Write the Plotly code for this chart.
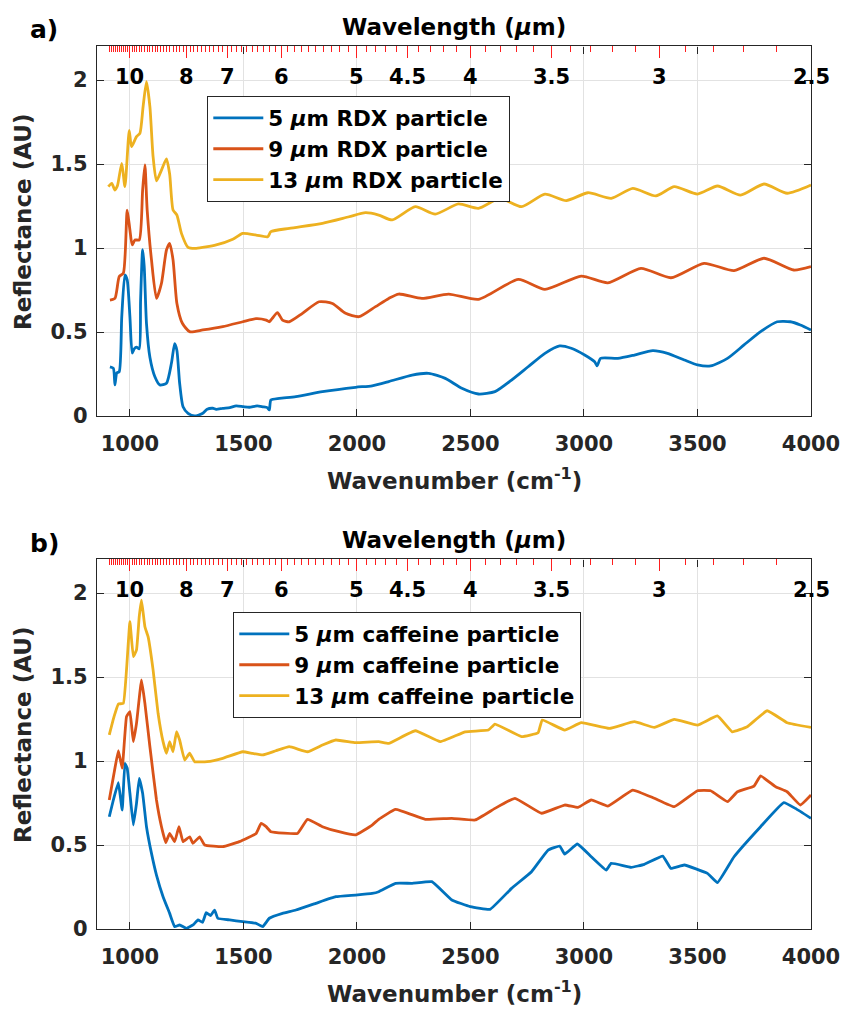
import plotly.graph_objects as go

# ---------------- Panel a: RDX ----------------
a5_wn = [912, 927, 934, 942, 953, 964, 978, 988, 1000, 1010, 1019, 1029, 1041, 1047, 1056, 1063, 1073, 1088,
         1110, 1132, 1161, 1183, 1197, 1207, 1219, 1234, 1256, 1285, 1321, 1340, 1365, 1380, 1409, 1440, 1468,
         1500, 1526, 1560, 1585, 1605, 1614, 1621, 1658, 1731, 1848, 1994, 2067, 2140, 2243, 2316, 2389, 2462,
         2535, 2608, 2681, 2754, 2828, 2893, 2944, 3003, 3047, 3058, 3073, 3149, 3222, 3303, 3368, 3442, 3500,
         3558, 3632, 3705, 3778, 3851, 3909, 3953, 4000]
a5_r = [0.293, 0.284, 0.185, 0.256, 0.264, 0.59, 0.84, 0.81, 0.59, 0.375, 0.40, 0.41, 0.40, 0.69, 0.99, 0.89,
        0.55, 0.35, 0.234, 0.185, 0.195, 0.315, 0.43, 0.39, 0.195, 0.055, 0.016, 0.0, 0.016, 0.04, 0.046, 0.04,
        0.046, 0.05, 0.06, 0.055, 0.052, 0.06, 0.055, 0.05, 0.036, 0.095, 0.105, 0.115, 0.145, 0.171, 0.18, 0.205,
        0.244, 0.254, 0.224, 0.165, 0.131, 0.145, 0.214, 0.293, 0.373, 0.417, 0.403, 0.363, 0.323, 0.298, 0.343,
        0.343, 0.363, 0.389, 0.373, 0.333, 0.304, 0.298, 0.343, 0.423, 0.502, 0.561, 0.561, 0.542, 0.512]

a9_wn = [912, 934, 953, 971, 988, 1000, 1010, 1022, 1041, 1056, 1066, 1076, 1095, 1117, 1139, 1161, 1175, 1190,
         1207, 1231, 1263, 1321, 1409, 1497, 1556, 1600, 1614, 1626, 1650, 1672, 1702, 1760, 1833, 1892, 1950,
         2009, 2082, 2140, 2184, 2286, 2404, 2535, 2711, 2828, 2988, 3105, 3251, 3383, 3529, 3661, 3793, 3924, 4000]
a9_r = [0.69, 0.70, 0.83, 0.85, 1.226, 1.107, 1.018, 1.048, 1.048, 1.345, 1.494, 1.226, 0.929, 0.70, 0.79, 0.988,
        1.028, 0.929, 0.67, 0.552, 0.502, 0.512, 0.532, 0.561, 0.58, 0.571, 0.561, 0.58, 0.615, 0.571, 0.561,
        0.611, 0.68, 0.67, 0.611, 0.591, 0.651, 0.70, 0.726, 0.70, 0.726, 0.694, 0.813, 0.754, 0.833, 0.793,
        0.879, 0.823, 0.909, 0.865, 0.939, 0.869, 0.889]

a13_wn = [905, 920, 934, 945, 964, 978, 997, 1007, 1029, 1044, 1058, 1073, 1088, 1102, 1117, 1139, 1161, 1175,
          1190, 1207, 1227, 1256, 1292, 1380, 1453, 1497, 1556, 1607, 1621, 1702, 1848, 1965, 2038, 2096, 2155,
          2257, 2345, 2447, 2535, 2630, 2725, 2828, 2922, 3018, 3120, 3215, 3317, 3398, 3500, 3588, 3690, 3793,
          3895, 4000]
a13_r = [1.365, 1.385, 1.345, 1.37, 1.504, 1.365, 1.70, 1.603, 1.663, 1.683, 1.841, 1.99, 1.841, 1.544, 1.40,
         1.464, 1.53, 1.44, 1.226, 1.196, 1.087, 1.004, 0.998, 1.018, 1.052, 1.087, 1.077, 1.067, 1.097, 1.117,
         1.147, 1.186, 1.21, 1.196, 1.167, 1.246, 1.202, 1.262, 1.236, 1.296, 1.246, 1.321, 1.282, 1.329, 1.296,
         1.355, 1.31, 1.365, 1.321, 1.369, 1.315, 1.381, 1.326, 1.375]

# ---------------- Panel b: caffeine ----------------
b5_wn = [909, 927, 949, 966, 978, 988, 1000, 1015, 1029, 1041, 1056, 1073, 1095, 1117, 1146, 1175, 1197, 1219,
         1249, 1278, 1300, 1320, 1336, 1355, 1373, 1387, 1439, 1497, 1556, 1585, 1614, 1672, 1731, 1819, 1907,
         1994, 2067, 2096, 2170, 2243, 2330, 2418, 2499, 2586, 2681, 2769, 2842, 2893, 2915, 2971, 3032, 3098,
         3120, 3208, 3266, 3347, 3383, 3442, 3544, 3588, 3661, 3778, 3880, 3931, 4000]
b5_r = [0.668, 0.768, 0.871, 0.708, 0.986, 0.957, 0.808, 0.619, 0.748, 0.897, 0.808, 0.609, 0.45, 0.321, 0.192,
        0.093, 0.014, 0.024, 0.004, 0.024, 0.054, 0.04, 0.097, 0.08, 0.113, 0.064, 0.054, 0.044, 0.034, 0.014,
        0.064, 0.093, 0.113, 0.153, 0.192, 0.202, 0.212, 0.222, 0.272, 0.272, 0.282, 0.173, 0.133, 0.117, 0.242,
        0.341, 0.47, 0.494, 0.446, 0.506, 0.43, 0.351, 0.391, 0.367, 0.385, 0.434, 0.361, 0.381, 0.331, 0.276,
        0.43, 0.609, 0.752, 0.718, 0.659]

b9_wn = [909, 930, 949, 966, 985, 1000, 1015, 1029, 1051, 1066, 1088, 1117, 1139, 1158, 1175, 1197, 1216, 1234,
         1263, 1278, 1307, 1329, 1409, 1482, 1556, 1578, 1600, 1621, 1738, 1782, 1848, 1921, 1994, 2067, 2096,
         2170, 2301, 2418, 2521, 2608, 2696, 2813, 2915, 2974, 3032, 3105, 3215, 3310, 3398, 3500, 3558, 3632,
         3676, 3749, 3778, 3844, 3895, 3953, 4000]
b9_r = [0.768, 0.927, 1.061, 0.957, 1.264, 1.294, 1.115, 1.224, 1.482, 1.343, 1.085, 0.768, 0.609, 0.514, 0.569,
        0.52, 0.609, 0.52, 0.549, 0.51, 0.549, 0.50, 0.49, 0.52, 0.569, 0.629, 0.609, 0.579, 0.569, 0.653, 0.609,
        0.579, 0.56, 0.619, 0.653, 0.712, 0.653, 0.659, 0.649, 0.718, 0.778, 0.689, 0.738, 0.724, 0.768, 0.732,
        0.827, 0.778, 0.728, 0.823, 0.823, 0.758, 0.817, 0.851, 0.911, 0.847, 0.817, 0.738, 0.798]

b13_wn = [909, 930, 949, 971, 985, 1000, 1015, 1029, 1041, 1051, 1066, 1080, 1102, 1124, 1146, 1161, 1175, 1190,
          1205, 1219, 1241, 1263, 1285, 1340, 1409, 1497, 1540, 1585, 1643, 1702, 1782, 1848, 1907, 1994, 2096,
          2140, 2257, 2367, 2477, 2579, 2608, 2725, 2798, 2816, 2915, 2988, 3112, 3222, 3310, 3398, 3500, 3588,
          3653, 3719, 3807, 3895, 4000]
b13_r = [1.155, 1.264, 1.339, 1.343, 1.542, 1.829, 1.621, 1.661, 1.859, 1.958, 1.799, 1.74, 1.542, 1.284, 1.115,
         1.046, 1.115, 1.055, 1.174, 1.125, 1.006, 1.046, 0.996, 0.996, 1.016, 1.055, 1.045, 1.036, 1.061, 1.085,
         1.055, 1.095, 1.125, 1.109, 1.115, 1.105, 1.18, 1.115, 1.174, 1.184, 1.22, 1.145, 1.168, 1.244, 1.184,
         1.228, 1.194, 1.234, 1.2, 1.248, 1.214, 1.268, 1.174, 1.204, 1.299, 1.228, 1.2]

names_a = ["5 <i>μ</i>m RDX particle", "9 <i>μ</i>m RDX particle", "13 <i>μ</i>m RDX particle"]
names_b = ["5 <i>μ</i>m caffeine particle", "9 <i>μ</i>m caffeine particle", "13 <i>μ</i>m caffeine particle"]
colors = ["#0072BD", "#D95319", "#EDB120"]

# Top (wavelength) axis
wl_major = [10, 8, 7, 6, 5, 4.5, 4, 3.5, 3, 2.5]
wl_major_text = ["10", "8", "7", "6", "5", "4.5", "4", "3.5", "3", "2.5"]
wl_minor = [round(11.0 - 0.1 * i, 1) for i in range(86)]
wl_minor = [w for w in wl_minor if w not in wl_major and w >= 2.5]

W, H = 846, 1009
XL, XR = 97, 811
A_TOP, A_BOT = 46.4, 416
B_TOP, B_BOT = 559.4, 929
XRANGE = [855, 4000]
YRANGE = [0, 2.2]

FONT = "DejaVu Sans"
AXC = "#262626"
RED = "#ff1f1f"

fig = go.Figure()
for wn, r, nm, c in zip([a5_wn, a9_wn, a13_wn], [a5_r, a9_r, a13_r], names_a, colors):
    fig.add_trace(go.Scatter(x=wn, y=r, name=nm, mode="lines", line=dict(color=c, width=2.8, shape="spline", smoothing=0.6),
                             xaxis="x", yaxis="y", legend="legend"))
for wn, r, nm, c in zip([b5_wn, b9_wn, b13_wn], [b5_r, b9_r, b13_r], names_b, colors):
    fig.add_trace(go.Scatter(x=wn, y=r, name=nm, mode="lines", line=dict(color=c, width=2.8, shape="spline", smoothing=0.3),
                             xaxis="x2", yaxis="y2", legend="legend2"))
# empty traces so the overlaid top axes exist
fig.add_trace(go.Scatter(x=[], y=[], xaxis="x3", yaxis="y", showlegend=False, hoverinfo="skip"))
fig.add_trace(go.Scatter(x=[], y=[], xaxis="x4", yaxis="y2", showlegend=False, hoverinfo="skip"))

tickfont = dict(family=FONT, size=21, color=AXC, weight="bold")
xdom = [XL / W, XR / W]
ydom_a = [1 - A_BOT / H, 1 - A_TOP / H]
ydom_b = [1 - B_BOT / H, 1 - B_TOP / H]

def xax(anchor):
    return dict(domain=xdom, anchor=anchor, range=XRANGE, tickmode="array", tickvals=[1000, 1500, 2000, 2500, 3000, 3500, 4000],
                ticks="inside", ticklen=7, tickcolor=AXC, showline=True, linecolor=AXC, linewidth=1.3, mirror="ticks",
                showgrid=True, gridcolor="#e2e2e2", gridwidth=1, zeroline=False, tickfont=tickfont, ticklabelstandoff=9,
                automargin=False)

def yax(anchor, dom):
    return dict(domain=dom, anchor=anchor, range=YRANGE, tickmode="array", tickvals=[0, 0.5, 1, 1.5, 2],
                ticks="inside", ticklen=7, tickcolor=AXC, showline=True, linecolor=AXC, linewidth=1.3, mirror="ticks",
                showgrid=True, gridcolor="#e2e2e2", gridwidth=1, zeroline=False, tickfont=tickfont, ticklabelstandoff=4,
                automargin=False)

def topax(over, anchor):
    return dict(overlaying=over, anchor=anchor, side="top", range=XRANGE, tickmode="array",
                tickvals=[1e4 / w for w in wl_major], ticks="inside", ticklen=12, tickcolor=RED, tickwidth=1.4,
                showticklabels=False, showgrid=False, showline=False, zeroline=False, automargin=False,
                minor=dict(tickmode="array", tickvals=[1e4 / w for w in wl_minor], ticks="inside", ticklen=6,
                           tickcolor=RED, tickwidth=1.3, showgrid=False))

legfont = dict(family=FONT, size=21.5, color="black", weight="bold")
fig.update_layout(
    width=W, height=H, margin=dict(l=0, r=0, t=0, b=0, autoexpand=False), paper_bgcolor="white", plot_bgcolor="white",
    xaxis=xax("y"), yaxis=yax("x", ydom_a),
    xaxis2=xax("y2"), yaxis2=yax("x2", ydom_b),
    xaxis3=topax("x", "y"), xaxis4=topax("x2", "y2"),
    legend=dict(x=207 / W, y=1 - 96 / H, xanchor="left", yanchor="top", bordercolor=AXC, borderwidth=1.3,
                bgcolor="white", font=legfont, itemwidth=50),
    legend2=dict(x=233 / W, y=1 - 612 / H, xanchor="left", yanchor="top", bordercolor=AXC, borderwidth=1.3,
                 bgcolor="white", font=legfont, itemwidth=50),
    showlegend=True,
)

titlefont = dict(family=FONT, size=23, color="black", weight="bold")
ann = []
for top, bot, letter in [(A_TOP, A_BOT, "a)"), (B_TOP, B_BOT, "b)")]:
    off = top - A_TOP
    xr = "x" if letter == "a)" else "x2"
    for w, t in zip(wl_major, wl_major_text):
        ann.append(dict(x=1e4 / w, xref=xr, y=1 - (top + 31) / H, yref="paper", text=t, showarrow=False,
                        xanchor="center", yanchor="middle", font=dict(family=FONT, size=21, color="black", weight="bold")))
    ann.append(dict(x=(XL + XR) / 2 / W, xref="paper", y=1 - (27 + off) / H, yref="paper", text="Wavelength (<i>μ</i>m)",
                    showarrow=False, xanchor="center", yanchor="middle", font=titlefont))
    ann.append(dict(x=(XL + XR) / 2 / W, xref="paper", y=1 - (479 + off) / H, yref="paper",
                    text="Wavenumber (cm<sup>-1</sup>)", showarrow=False, xanchor="center", yanchor="middle",
                    font=dict(family=FONT, size=23, color=AXC, weight="bold")))
    ann.append(dict(x=23 / W, xref="paper", y=1 - (222 + off) / H, yref="paper", text="Reflectance (AU)",
                    textangle=-90, showarrow=False, xanchor="center", yanchor="middle",
                    font=dict(family=FONT, size=23, color=AXC, weight="bold")))
    ann.append(dict(x=28 / W, xref="paper", y=1 - (30 + off) / H, yref="paper", text=letter, showarrow=False,
                    xanchor="left", yanchor="middle", font=dict(family=FONT, size=25, color="black", weight="bold")))
fig.update_layout(annotations=ann)

fig.write_html("out.html")
